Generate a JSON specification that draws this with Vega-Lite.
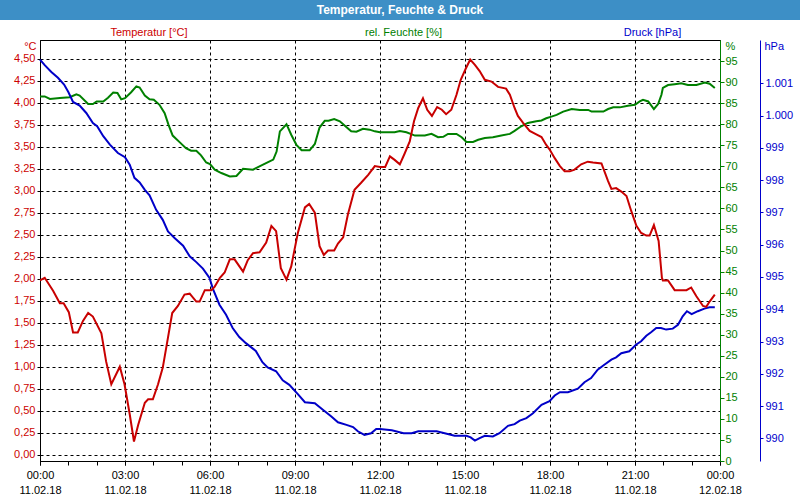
{
  "$schema": "https://vega.github.io/schema/vega-lite/v6.json",
  "background": "white",
  "padding": 0,
  "config": {
    "view": {"stroke": null},
    "locale": {"number": {"decimal": ",", "thousands": ".", "grouping": [3], "currency": ["", " €"]}},
    "axis": {"labelFont": "Liberation Sans", "labelFontSize": 11, "titleFont": "Liberation Sans", "titleFontSize": 11, "titleFontWeight": "normal", "labelOverlap": false, "labelFlush": false, "labelBound": false}
  },
  "datasets": {
    "temp": [
      {"zeit": "2018-02-11T00:00", "temperatur": 1.98}, {"zeit": "2018-02-11T00:10", "temperatur": 2.01}, {"zeit": "2018-02-11T00:28", "temperatur": 1.86}, {"zeit": "2018-02-11T00:42", "temperatur": 1.72}, {"zeit": "2018-02-11T00:50", "temperatur": 1.72}, {"zeit": "2018-02-11T01:01", "temperatur": 1.62}, {"zeit": "2018-02-11T01:10", "temperatur": 1.39}, {"zeit": "2018-02-11T01:20", "temperatur": 1.39}, {"zeit": "2018-02-11T01:31", "temperatur": 1.52}, {"zeit": "2018-02-11T01:42", "temperatur": 1.61}, {"zeit": "2018-02-11T01:52", "temperatur": 1.57}, {"zeit": "2018-02-11T02:10", "temperatur": 1.38}, {"zeit": "2018-02-11T02:20", "temperatur": 1.06}, {"zeit": "2018-02-11T02:31", "temperatur": 0.80}, {"zeit": "2018-02-11T02:49", "temperatur": 1.00}, {"zeit": "2018-02-11T02:59", "temperatur": 0.80}, {"zeit": "2018-02-11T03:10", "temperatur": 0.46}, {"zeit": "2018-02-11T03:19", "temperatur": 0.15}, {"zeit": "2018-02-11T03:28", "temperatur": 0.34}, {"zeit": "2018-02-11T03:42", "temperatur": 0.59}, {"zeit": "2018-02-11T03:49", "temperatur": 0.63}, {"zeit": "2018-02-11T03:59", "temperatur": 0.63}, {"zeit": "2018-02-11T04:10", "temperatur": 0.80}, {"zeit": "2018-02-11T04:20", "temperatur": 0.99}, {"zeit": "2018-02-11T04:31", "temperatur": 1.33}, {"zeit": "2018-02-11T04:40", "temperatur": 1.61}, {"zeit": "2018-02-11T04:52", "temperatur": 1.69}, {"zeit": "2018-02-11T05:06", "temperatur": 1.82}, {"zeit": "2018-02-11T05:17", "temperatur": 1.83}, {"zeit": "2018-02-11T05:31", "temperatur": 1.74}, {"zeit": "2018-02-11T05:38", "temperatur": 1.74}, {"zeit": "2018-02-11T05:49", "temperatur": 1.87}, {"zeit": "2018-02-11T06:03", "temperatur": 1.87}, {"zeit": "2018-02-11T06:10", "temperatur": 1.91}, {"zeit": "2018-02-11T06:21", "temperatur": 2.01}, {"zeit": "2018-02-11T06:31", "temperatur": 2.07}, {"zeit": "2018-02-11T06:42", "temperatur": 2.22}, {"zeit": "2018-02-11T06:52", "temperatur": 2.22}, {"zeit": "2018-02-11T07:10", "temperatur": 2.08}, {"zeit": "2018-02-11T07:20", "temperatur": 2.21}, {"zeit": "2018-02-11T07:31", "temperatur": 2.29}, {"zeit": "2018-02-11T07:45", "temperatur": 2.30}, {"zeit": "2018-02-11T07:59", "temperatur": 2.41}, {"zeit": "2018-02-11T08:10", "temperatur": 2.60}, {"zeit": "2018-02-11T08:20", "temperatur": 2.54}, {"zeit": "2018-02-11T08:30", "temperatur": 2.12}, {"zeit": "2018-02-11T08:42", "temperatur": 1.99}, {"zeit": "2018-02-11T08:52", "temperatur": 2.14}, {"zeit": "2018-02-11T09:06", "temperatur": 2.52}, {"zeit": "2018-02-11T09:21", "temperatur": 2.81}, {"zeit": "2018-02-11T09:30", "temperatur": 2.85}, {"zeit": "2018-02-11T09:42", "temperatur": 2.75}, {"zeit": "2018-02-11T09:52", "temperatur": 2.37}, {"zeit": "2018-02-11T10:01", "temperatur": 2.27}, {"zeit": "2018-02-11T10:10", "temperatur": 2.32}, {"zeit": "2018-02-11T10:23", "temperatur": 2.32}, {"zeit": "2018-02-11T10:31", "temperatur": 2.40}, {"zeit": "2018-02-11T10:42", "temperatur": 2.47}, {"zeit": "2018-02-11T10:52", "temperatur": 2.73}, {"zeit": "2018-02-11T11:06", "temperatur": 3.01}, {"zeit": "2018-02-11T11:20", "temperatur": 3.09}, {"zeit": "2018-02-11T11:35", "temperatur": 3.18}, {"zeit": "2018-02-11T11:49", "temperatur": 3.28}, {"zeit": "2018-02-11T12:00", "temperatur": 3.27}, {"zeit": "2018-02-11T12:11", "temperatur": 3.27}, {"zeit": "2018-02-11T12:21", "temperatur": 3.39}, {"zeit": "2018-02-11T12:31", "temperatur": 3.35}, {"zeit": "2018-02-11T12:42", "temperatur": 3.30}, {"zeit": "2018-02-11T12:52", "temperatur": 3.42}, {"zeit": "2018-02-11T13:03", "temperatur": 3.56}, {"zeit": "2018-02-11T13:12", "temperatur": 3.79}, {"zeit": "2018-02-11T13:21", "temperatur": 3.94}, {"zeit": "2018-02-11T13:31", "temperatur": 4.05}, {"zeit": "2018-02-11T13:40", "temperatur": 3.92}, {"zeit": "2018-02-11T13:50", "temperatur": 3.85}, {"zeit": "2018-02-11T14:01", "temperatur": 3.95}, {"zeit": "2018-02-11T14:11", "temperatur": 3.92}, {"zeit": "2018-02-11T14:20", "temperatur": 3.87}, {"zeit": "2018-02-11T14:31", "temperatur": 3.92}, {"zeit": "2018-02-11T14:42", "temperatur": 4.09}, {"zeit": "2018-02-11T14:51", "temperatur": 4.26}, {"zeit": "2018-02-11T15:01", "temperatur": 4.38}, {"zeit": "2018-02-11T15:11", "temperatur": 4.49}, {"zeit": "2018-02-11T15:21", "temperatur": 4.43}, {"zeit": "2018-02-11T15:31", "temperatur": 4.36}, {"zeit": "2018-02-11T15:42", "temperatur": 4.26}, {"zeit": "2018-02-11T15:56", "temperatur": 4.24}, {"zeit": "2018-02-11T16:10", "temperatur": 4.18}, {"zeit": "2018-02-11T16:27", "temperatur": 4.16}, {"zeit": "2018-02-11T16:35", "temperatur": 4.09}, {"zeit": "2018-02-11T16:45", "temperatur": 3.94}, {"zeit": "2018-02-11T16:52", "temperatur": 3.85}, {"zeit": "2018-02-11T17:03", "temperatur": 3.77}, {"zeit": "2018-02-11T17:17", "temperatur": 3.68}, {"zeit": "2018-02-11T17:31", "temperatur": 3.64}, {"zeit": "2018-02-11T17:42", "temperatur": 3.61}, {"zeit": "2018-02-11T17:52", "temperatur": 3.52}, {"zeit": "2018-02-11T17:59", "temperatur": 3.47}, {"zeit": "2018-02-11T18:10", "temperatur": 3.37}, {"zeit": "2018-02-11T18:21", "temperatur": 3.28}, {"zeit": "2018-02-11T18:31", "temperatur": 3.22}, {"zeit": "2018-02-11T18:42", "temperatur": 3.22}, {"zeit": "2018-02-11T18:52", "temperatur": 3.24}, {"zeit": "2018-02-11T19:06", "temperatur": 3.30}, {"zeit": "2018-02-11T19:20", "temperatur": 3.33}, {"zeit": "2018-02-11T19:31", "temperatur": 3.32}, {"zeit": "2018-02-11T19:49", "temperatur": 3.31}, {"zeit": "2018-02-11T20:03", "temperatur": 3.11}, {"zeit": "2018-02-11T20:10", "temperatur": 3.02}, {"zeit": "2018-02-11T20:20", "temperatur": 3.03}, {"zeit": "2018-02-11T20:31", "temperatur": 2.99}, {"zeit": "2018-02-11T20:42", "temperatur": 2.94}, {"zeit": "2018-02-11T20:52", "temperatur": 2.77}, {"zeit": "2018-02-11T21:03", "temperatur": 2.60}, {"zeit": "2018-02-11T21:13", "temperatur": 2.52}, {"zeit": "2018-02-11T21:24", "temperatur": 2.49}, {"zeit": "2018-02-11T21:31", "temperatur": 2.49}, {"zeit": "2018-02-11T21:40", "temperatur": 2.61}, {"zeit": "2018-02-11T21:50", "temperatur": 2.43}, {"zeit": "2018-02-11T21:57", "temperatur": 2.01}, {"zeit": "2018-02-11T21:59", "temperatur": 1.98}, {"zeit": "2018-02-11T22:10", "temperatur": 1.98}, {"zeit": "2018-02-11T22:24", "temperatur": 1.87}, {"zeit": "2018-02-11T22:49", "temperatur": 1.87}, {"zeit": "2018-02-11T22:59", "temperatur": 1.90}, {"zeit": "2018-02-11T23:10", "temperatur": 1.80}, {"zeit": "2018-02-11T23:24", "temperatur": 1.69}, {"zeit": "2018-02-11T23:31", "temperatur": 1.68}, {"zeit": "2018-02-11T23:38", "temperatur": 1.74}, {"zeit": "2018-02-11T23:49", "temperatur": 1.82}
    ],
    "feuchte": [
      {"zeit": "2018-02-11T00:00", "feuchte": 86.6}, {"zeit": "2018-02-11T00:10", "feuchte": 86.6}, {"zeit": "2018-02-11T00:21", "feuchte": 86.0}, {"zeit": "2018-02-11T00:42", "feuchte": 86.2}, {"zeit": "2018-02-11T01:03", "feuchte": 86.4}, {"zeit": "2018-02-11T01:17", "feuchte": 87.1}, {"zeit": "2018-02-11T01:24", "feuchte": 86.8}, {"zeit": "2018-02-11T01:42", "feuchte": 84.8}, {"zeit": "2018-02-11T01:52", "feuchte": 84.8}, {"zeit": "2018-02-11T02:00", "feuchte": 85.4}, {"zeit": "2018-02-11T02:14", "feuchte": 85.4}, {"zeit": "2018-02-11T02:24", "feuchte": 86.3}, {"zeit": "2018-02-11T02:35", "feuchte": 87.5}, {"zeit": "2018-02-11T02:44", "feuchte": 87.4}, {"zeit": "2018-02-11T02:52", "feuchte": 85.9}, {"zeit": "2018-02-11T03:00", "feuchte": 86.2}, {"zeit": "2018-02-11T03:13", "feuchte": 87.6}, {"zeit": "2018-02-11T03:24", "feuchte": 89.0}, {"zeit": "2018-02-11T03:31", "feuchte": 88.7}, {"zeit": "2018-02-11T03:42", "feuchte": 86.8}, {"zeit": "2018-02-11T03:52", "feuchte": 85.9}, {"zeit": "2018-02-11T04:01", "feuchte": 85.8}, {"zeit": "2018-02-11T04:13", "feuchte": 84.6}, {"zeit": "2018-02-11T04:24", "feuchte": 82.6}, {"zeit": "2018-02-11T04:32", "feuchte": 79.9}, {"zeit": "2018-02-11T04:41", "feuchte": 77.3}, {"zeit": "2018-02-11T04:55", "feuchte": 75.8}, {"zeit": "2018-02-11T05:09", "feuchte": 74.3}, {"zeit": "2018-02-11T05:20", "feuchte": 73.7}, {"zeit": "2018-02-11T05:31", "feuchte": 73.7}, {"zeit": "2018-02-11T05:41", "feuchte": 72.6}, {"zeit": "2018-02-11T05:52", "feuchte": 70.9}, {"zeit": "2018-02-11T06:00", "feuchte": 70.5}, {"zeit": "2018-02-11T06:10", "feuchte": 69.2}, {"zeit": "2018-02-11T06:24", "feuchte": 68.4}, {"zeit": "2018-02-11T06:42", "feuchte": 67.6}, {"zeit": "2018-02-11T06:56", "feuchte": 67.7}, {"zeit": "2018-02-11T07:10", "feuchte": 69.4}, {"zeit": "2018-02-11T07:31", "feuchte": 69.2}, {"zeit": "2018-02-11T07:49", "feuchte": 70.2}, {"zeit": "2018-02-11T08:03", "feuchte": 71.0}, {"zeit": "2018-02-11T08:14", "feuchte": 71.6}, {"zeit": "2018-02-11T08:21", "feuchte": 73.5}, {"zeit": "2018-02-11T08:28", "feuchte": 78.3}, {"zeit": "2018-02-11T08:42", "feuchte": 80.0}, {"zeit": "2018-02-11T08:52", "feuchte": 77.5}, {"zeit": "2018-02-11T09:03", "feuchte": 75.1}, {"zeit": "2018-02-11T09:14", "feuchte": 73.8}, {"zeit": "2018-02-11T09:31", "feuchte": 73.8}, {"zeit": "2018-02-11T09:42", "feuchte": 75.3}, {"zeit": "2018-02-11T09:52", "feuchte": 79.2}, {"zeit": "2018-02-11T10:03", "feuchte": 80.8}, {"zeit": "2018-02-11T10:11", "feuchte": 80.8}, {"zeit": "2018-02-11T10:23", "feuchte": 81.2}, {"zeit": "2018-02-11T10:35", "feuchte": 80.7}, {"zeit": "2018-02-11T10:45", "feuchte": 79.7}, {"zeit": "2018-02-11T10:59", "feuchte": 78.3}, {"zeit": "2018-02-11T11:10", "feuchte": 78.2}, {"zeit": "2018-02-11T11:24", "feuchte": 78.9}, {"zeit": "2018-02-11T11:38", "feuchte": 78.7}, {"zeit": "2018-02-11T11:49", "feuchte": 78.3}, {"zeit": "2018-02-11T12:00", "feuchte": 78.1}, {"zeit": "2018-02-11T12:31", "feuchte": 78.1}, {"zeit": "2018-02-11T12:42", "feuchte": 78.4}, {"zeit": "2018-02-11T12:56", "feuchte": 78.1}, {"zeit": "2018-02-11T13:14", "feuchte": 77.3}, {"zeit": "2018-02-11T13:35", "feuchte": 77.3}, {"zeit": "2018-02-11T13:49", "feuchte": 77.7}, {"zeit": "2018-02-11T14:03", "feuchte": 76.9}, {"zeit": "2018-02-11T14:14", "feuchte": 77.0}, {"zeit": "2018-02-11T14:24", "feuchte": 77.7}, {"zeit": "2018-02-11T14:42", "feuchte": 77.7}, {"zeit": "2018-02-11T14:53", "feuchte": 76.9}, {"zeit": "2018-02-11T15:03", "feuchte": 75.8}, {"zeit": "2018-02-11T15:17", "feuchte": 75.8}, {"zeit": "2018-02-11T15:28", "feuchte": 76.3}, {"zeit": "2018-02-11T15:42", "feuchte": 76.7}, {"zeit": "2018-02-11T15:59", "feuchte": 76.9}, {"zeit": "2018-02-11T16:17", "feuchte": 77.3}, {"zeit": "2018-02-11T16:35", "feuchte": 77.7}, {"zeit": "2018-02-11T16:45", "feuchte": 78.4}, {"zeit": "2018-02-11T16:59", "feuchte": 79.5}, {"zeit": "2018-02-11T17:13", "feuchte": 80.3}, {"zeit": "2018-02-11T17:31", "feuchte": 80.7}, {"zeit": "2018-02-11T17:42", "feuchte": 80.9}, {"zeit": "2018-02-11T17:52", "feuchte": 81.4}, {"zeit": "2018-02-11T18:03", "feuchte": 81.8}, {"zeit": "2018-02-11T18:14", "feuchte": 82.2}, {"zeit": "2018-02-11T18:28", "feuchte": 83.0}, {"zeit": "2018-02-11T18:46", "feuchte": 83.6}, {"zeit": "2018-02-11T19:03", "feuchte": 83.4}, {"zeit": "2018-02-11T19:21", "feuchte": 83.4}, {"zeit": "2018-02-11T19:28", "feuchte": 83.0}, {"zeit": "2018-02-11T19:53", "feuchte": 83.0}, {"zeit": "2018-02-11T20:03", "feuchte": 83.6}, {"zeit": "2018-02-11T20:14", "feuchte": 84.0}, {"zeit": "2018-02-11T20:28", "feuchte": 84.0}, {"zeit": "2018-02-11T20:45", "feuchte": 84.4}, {"zeit": "2018-02-11T21:00", "feuchte": 84.6}, {"zeit": "2018-02-11T21:10", "feuchte": 85.4}, {"zeit": "2018-02-11T21:17", "feuchte": 85.8}, {"zeit": "2018-02-11T21:28", "feuchte": 85.4}, {"zeit": "2018-02-11T21:40", "feuchte": 83.6}, {"zeit": "2018-02-11T21:49", "feuchte": 84.8}, {"zeit": "2018-02-11T21:56", "feuchte": 87.0}, {"zeit": "2018-02-11T21:59", "feuchte": 88.6}, {"zeit": "2018-02-11T22:10", "feuchte": 89.3}, {"zeit": "2018-02-11T22:24", "feuchte": 89.5}, {"zeit": "2018-02-11T22:38", "feuchte": 89.7}, {"zeit": "2018-02-11T22:52", "feuchte": 89.3}, {"zeit": "2018-02-11T23:10", "feuchte": 89.3}, {"zeit": "2018-02-11T23:28", "feuchte": 89.9}, {"zeit": "2018-02-11T23:38", "feuchte": 89.6}, {"zeit": "2018-02-11T23:49", "feuchte": 88.6}
    ],
    "druck": [
      {"zeit": "2018-02-11T00:00", "druck": 1001.73}, {"zeit": "2018-02-11T00:10", "druck": 1001.56}, {"zeit": "2018-02-11T00:24", "druck": 1001.35}, {"zeit": "2018-02-11T00:38", "druck": 1001.17}, {"zeit": "2018-02-11T00:51", "druck": 1000.96}, {"zeit": "2018-02-11T01:00", "druck": 1000.73}, {"zeit": "2018-02-11T01:10", "druck": 1000.42}, {"zeit": "2018-02-11T01:24", "druck": 1000.31}, {"zeit": "2018-02-11T01:38", "druck": 1000.08}, {"zeit": "2018-02-11T01:52", "druck": 999.77}, {"zeit": "2018-02-11T02:01", "druck": 999.67}, {"zeit": "2018-02-11T02:14", "druck": 999.36}, {"zeit": "2018-02-11T02:28", "druck": 999.10}, {"zeit": "2018-02-11T02:45", "druck": 998.84}, {"zeit": "2018-02-11T03:00", "druck": 998.71}, {"zeit": "2018-02-11T03:10", "druck": 998.48}, {"zeit": "2018-02-11T03:20", "druck": 998.07}, {"zeit": "2018-02-11T03:31", "druck": 997.93}, {"zeit": "2018-02-11T03:42", "druck": 997.70}, {"zeit": "2018-02-11T03:52", "druck": 997.53}, {"zeit": "2018-02-11T04:06", "druck": 997.08}, {"zeit": "2018-02-11T04:20", "druck": 996.77}, {"zeit": "2018-02-11T04:31", "druck": 996.41}, {"zeit": "2018-02-11T04:45", "druck": 996.21}, {"zeit": "2018-02-11T05:03", "druck": 995.97}, {"zeit": "2018-02-11T05:17", "druck": 995.64}, {"zeit": "2018-02-11T05:31", "druck": 995.46}, {"zeit": "2018-02-11T05:45", "druck": 995.26}, {"zeit": "2018-02-11T05:59", "druck": 994.97}, {"zeit": "2018-02-11T06:06", "druck": 994.64}, {"zeit": "2018-02-11T06:20", "druck": 994.14}, {"zeit": "2018-02-11T06:34", "druck": 993.83}, {"zeit": "2018-02-11T06:48", "druck": 993.42}, {"zeit": "2018-02-11T07:02", "druck": 993.14}, {"zeit": "2018-02-11T07:16", "druck": 992.95}, {"zeit": "2018-02-11T07:37", "druck": 992.71}, {"zeit": "2018-02-11T07:51", "druck": 992.36}, {"zeit": "2018-02-11T08:02", "druck": 992.20}, {"zeit": "2018-02-11T08:20", "druck": 992.08}, {"zeit": "2018-02-11T08:34", "druck": 991.80}, {"zeit": "2018-02-11T08:48", "druck": 991.66}, {"zeit": "2018-02-11T09:06", "druck": 991.37}, {"zeit": "2018-02-11T09:21", "druck": 991.12}, {"zeit": "2018-02-11T09:42", "druck": 991.09}, {"zeit": "2018-02-11T09:59", "druck": 990.89}, {"zeit": "2018-02-11T10:17", "druck": 990.68}, {"zeit": "2018-02-11T10:31", "druck": 990.50}, {"zeit": "2018-02-11T10:49", "druck": 990.42}, {"zeit": "2018-02-11T11:03", "druck": 990.35}, {"zeit": "2018-02-11T11:13", "druck": 990.22}, {"zeit": "2018-02-11T11:27", "druck": 990.11}, {"zeit": "2018-02-11T11:41", "druck": 990.16}, {"zeit": "2018-02-11T11:52", "druck": 990.29}, {"zeit": "2018-02-11T12:00", "druck": 990.29}, {"zeit": "2018-02-11T12:25", "druck": 990.25}, {"zeit": "2018-02-11T12:50", "druck": 990.16}, {"zeit": "2018-02-11T13:07", "druck": 990.16}, {"zeit": "2018-02-11T13:21", "druck": 990.22}, {"zeit": "2018-02-11T14:00", "druck": 990.22}, {"zeit": "2018-02-11T14:17", "druck": 990.16}, {"zeit": "2018-02-11T14:38", "druck": 990.08}, {"zeit": "2018-02-11T15:03", "druck": 990.08}, {"zeit": "2018-02-11T15:12", "druck": 990.03}, {"zeit": "2018-02-11T15:21", "druck": 989.93}, {"zeit": "2018-02-11T15:31", "druck": 990.01}, {"zeit": "2018-02-11T15:42", "druck": 990.08}, {"zeit": "2018-02-11T15:59", "druck": 990.06}, {"zeit": "2018-02-11T16:13", "druck": 990.16}, {"zeit": "2018-02-11T16:31", "druck": 990.39}, {"zeit": "2018-02-11T16:45", "druck": 990.44}, {"zeit": "2018-02-11T16:56", "druck": 990.55}, {"zeit": "2018-02-11T17:10", "druck": 990.63}, {"zeit": "2018-02-11T17:24", "druck": 990.78}, {"zeit": "2018-02-11T17:42", "druck": 991.04}, {"zeit": "2018-02-11T17:59", "druck": 991.15}, {"zeit": "2018-02-11T18:10", "druck": 991.33}, {"zeit": "2018-02-11T18:21", "druck": 991.43}, {"zeit": "2018-02-11T18:38", "druck": 991.43}, {"zeit": "2018-02-11T18:59", "druck": 991.54}, {"zeit": "2018-02-11T19:13", "druck": 991.74}, {"zeit": "2018-02-11T19:27", "druck": 991.87}, {"zeit": "2018-02-11T19:41", "druck": 992.13}, {"zeit": "2018-02-11T19:55", "druck": 992.28}, {"zeit": "2018-02-11T20:10", "druck": 992.44}, {"zeit": "2018-02-11T20:20", "druck": 992.51}, {"zeit": "2018-02-11T20:31", "druck": 992.64}, {"zeit": "2018-02-11T20:48", "druck": 992.70}, {"zeit": "2018-02-11T21:02", "druck": 992.90}, {"zeit": "2018-02-11T21:13", "druck": 993.01}, {"zeit": "2018-02-11T21:24", "druck": 993.18}, {"zeit": "2018-02-11T21:34", "druck": 993.29}, {"zeit": "2018-02-11T21:45", "druck": 993.42}, {"zeit": "2018-02-11T21:55", "druck": 993.42}, {"zeit": "2018-02-11T22:06", "druck": 993.37}, {"zeit": "2018-02-11T22:20", "druck": 993.40}, {"zeit": "2018-02-11T22:31", "druck": 993.52}, {"zeit": "2018-02-11T22:41", "druck": 993.78}, {"zeit": "2018-02-11T22:50", "druck": 993.94}, {"zeit": "2018-02-11T23:00", "druck": 993.85}, {"zeit": "2018-02-11T23:13", "druck": 993.94}, {"zeit": "2018-02-11T23:27", "druck": 994.02}, {"zeit": "2018-02-11T23:38", "druck": 994.06}, {"zeit": "2018-02-11T23:49", "druck": 994.06}
    ]
  },
  "spacing": 20,
  "bounds": "flush",
  "vconcat": [
    {
      "width": 800,
      "height": 20,
      "view": {"fill": "#3d8fc6", "stroke": null},
      "data": {"values": [{"titel": "Temperatur, Feuchte & Druck"}]},
      "mark": {"type": "text", "color": "white", "font": "Liberation Sans", "fontSize": 12, "fontWeight": "bold"},
      "encoding": {"text": {"field": "titel"}}
    },
    {
      "spacing": 0,
      "bounds": "flush",
      "hconcat": [
        {
          "width": 40,
          "height": 421,
          "data": {"values": [{"titel": ""}]},
          "mark": {"type": "text"},
          "encoding": {"text": {"field": "titel"}}
        },
        {
          "width": 680,
          "height": 421,
          "view": {"stroke": "black", "strokeWidth": 1},
          "resolve": {"scale": {"y": "independent"}, "axis": {"x": "independent", "y": "independent"}},
          "layer": [
            {
              "data": {"name": "feuchte"},
              "mark": {"type": "line", "color": "#008000", "strokeWidth": 2},
              "encoding": {
                "x": {
                  "field": "zeit", "type": "temporal",
                  "scale": {"domain": [{"year": 2018, "month": 2, "date": 11}, {"year": 2018, "month": 2, "date": 12}], "nice": false},
                  "axis": {
                    "orient": "top", "grid": false, "domain": false, "ticks": false, "labels": false, "tickSize": 0,
                    "title": "rel. Feuchte [%]", "titleColor": "#008000", "titleX": 363, "titleY": -8, "titleAlign": "center", "titleBaseline": "middle", "titleAngle": 0
                  }
                },
                "y": {
                  "field": "feuchte", "type": "quantitative",
                  "scale": {"domain": [0, 100], "nice": false, "zero": false},
                  "axis": {
                    "orient": "right", "grid": false,
                    "values": [0, 5, 10, 15, 20, 25, 30, 35, 40, 45, 50, 55, 60, 65, 70, 75, 80, 85, 90, 95],
                    "format": "d",
                    "domainColor": "#008000", "tickColor": "#008000", "labelColor": "#008000", "tickSize": 4, "labelPadding": 1,
                    "title": "%", "titleColor": "#008000", "titleAngle": 0, "titleX": 5, "titleY": 6, "titleAlign": "left", "titleBaseline": "middle"
                  }
                }
              }
            },
            {
              "data": {"name": "druck"},
              "mark": {"type": "line", "color": "#0000c8", "strokeWidth": 2},
              "encoding": {
                "x": {
                  "field": "zeit", "type": "temporal",
                  "scale": {"domain": [{"year": 2018, "month": 2, "date": 11}, {"year": 2018, "month": 2, "date": 12}], "nice": false},
                  "axis": {
                    "orient": "bottom", "title": null, "grid": false, "domain": false, "ticks": false, "tickSize": 0,
                    "tickCount": 8, "format": "%d.%m.%y", "labelColor": "black", "labelPadding": 23
                  }
                },
                "y": {
                  "field": "druck", "type": "quantitative",
                  "scale": {"domain": [989.3, 1002.34], "nice": false, "zero": false},
                  "axis": {
                    "orient": "right", "offset": 40, "grid": false,
                    "values": [990, 991, 992, 993, 994, 995, 996, 997, 998, 999, 1000, 1001],
                    "format": ",d",
                    "domainColor": "#0000cc", "tickColor": "#0000cc", "labelColor": "#0000cc", "tickSize": 3, "labelPadding": 2,
                    "title": "hPa", "titleColor": "#0000cc", "titleAngle": 0, "titleX": 4, "titleY": 6, "titleAlign": "left", "titleBaseline": "middle"
                  }
                }
              }
            },
            {
              "data": {"name": "temp"},
              "mark": {"type": "line", "color": "#c80000", "strokeWidth": 2},
              "encoding": {
                "x": {
                  "field": "zeit", "type": "temporal",
                  "scale": {"domain": [{"year": 2018, "month": 2, "date": 11}, {"year": 2018, "month": 2, "date": 12}], "nice": false},
                  "axis": {
                    "orient": "bottom", "title": null, "tickCount": 8, "format": "%H:%M",
                    "grid": true, "gridColor": "black", "gridDash": [3, 3], "gridOpacity": 1, "gridWidth": 1,
                    "domainColor": "black", "tickColor": "black", "tickSize": 4,
                    "labelColor": "black", "labelPadding": 4
                  }
                },
                "y": {
                  "field": "temperatur", "type": "quantitative",
                  "scale": {"domain": [-0.0716, 4.7125], "nice": false, "zero": false},
                  "axis": {
                    "orient": "left",
                    "values": [0, 0.25, 0.5, 0.75, 1, 1.25, 1.5, 1.75, 2, 2.25, 2.5, 2.75, 3, 3.25, 3.5, 3.75, 4, 4.25, 4.5],
                    "format": ".2f",
                    "grid": true, "gridColor": "black", "gridDash": [3, 3], "gridOpacity": 1, "gridWidth": 1,
                    "domainColor": "black", "tickColor": "black", "tickSize": 3, "labelPadding": 2, "labelColor": "#cc0000",
                    "title": "°C", "titleColor": "#cc0000", "titleAngle": 0, "titleX": -4, "titleY": 6, "titleAlign": "right", "titleBaseline": "middle"
                  }
                }
              }
            },
            {
              "data": {"name": "temp"},
              "mark": {"type": "line", "color": "#c80000", "strokeOpacity": 0},
              "encoding": {
                "x": {
                  "field": "zeit", "type": "temporal",
                  "scale": {"domain": [{"year": 2018, "month": 2, "date": 11}, {"year": 2018, "month": 2, "date": 12}], "nice": false},
                  "axis": {
                    "orient": "top", "grid": false, "domain": false, "ticks": false, "labels": false, "tickSize": 0,
                    "title": "Temperatur [°C]", "titleColor": "#cc0000", "titleX": 108.5, "titleY": -8, "titleAlign": "center", "titleBaseline": "middle", "titleAngle": 0
                  }
                },
                "y": {"field": "temperatur", "type": "quantitative", "scale": {"domain": [-0.0716, 4.7125], "nice": false, "zero": false}, "axis": null}
              }
            },
            {
              "data": {"name": "druck"},
              "mark": {"type": "line", "color": "#0000c8", "strokeOpacity": 0},
              "encoding": {
                "x": {
                  "field": "zeit", "type": "temporal",
                  "scale": {"domain": [{"year": 2018, "month": 2, "date": 11}, {"year": 2018, "month": 2, "date": 12}], "nice": false},
                  "axis": {
                    "orient": "top", "grid": false, "domain": false, "ticks": false, "labels": false, "tickSize": 0,
                    "title": "Druck [hPa]", "titleColor": "#0000cc", "titleX": 612, "titleY": -8, "titleAlign": "center", "titleBaseline": "middle", "titleAngle": 0
                  }
                },
                "y": {"field": "druck", "type": "quantitative", "scale": {"domain": [989.3, 1002.34], "nice": false, "zero": false}, "axis": null}
              }
            },
            {
              "data": {"name": "feuchte"},
              "mark": {"type": "line", "color": "#008000", "strokeOpacity": 0},
              "encoding": {
                "x": {
                  "field": "zeit", "type": "temporal",
                  "scale": {"domain": [{"year": 2018, "month": 2, "date": 11}, {"year": 2018, "month": 2, "date": 12}], "nice": false},
                  "axis": {
                    "orient": "bottom", "title": null, "grid": false, "domain": false, "labels": false,
                    "tickCount": 24, "tickSize": 4, "tickColor": "black"
                  }
                },
                "y": {"field": "feuchte", "type": "quantitative", "scale": {"domain": [0, 100], "nice": false, "zero": false}, "axis": null}
              }
            }
          ]
        }
      ]
    }
  ]
}
